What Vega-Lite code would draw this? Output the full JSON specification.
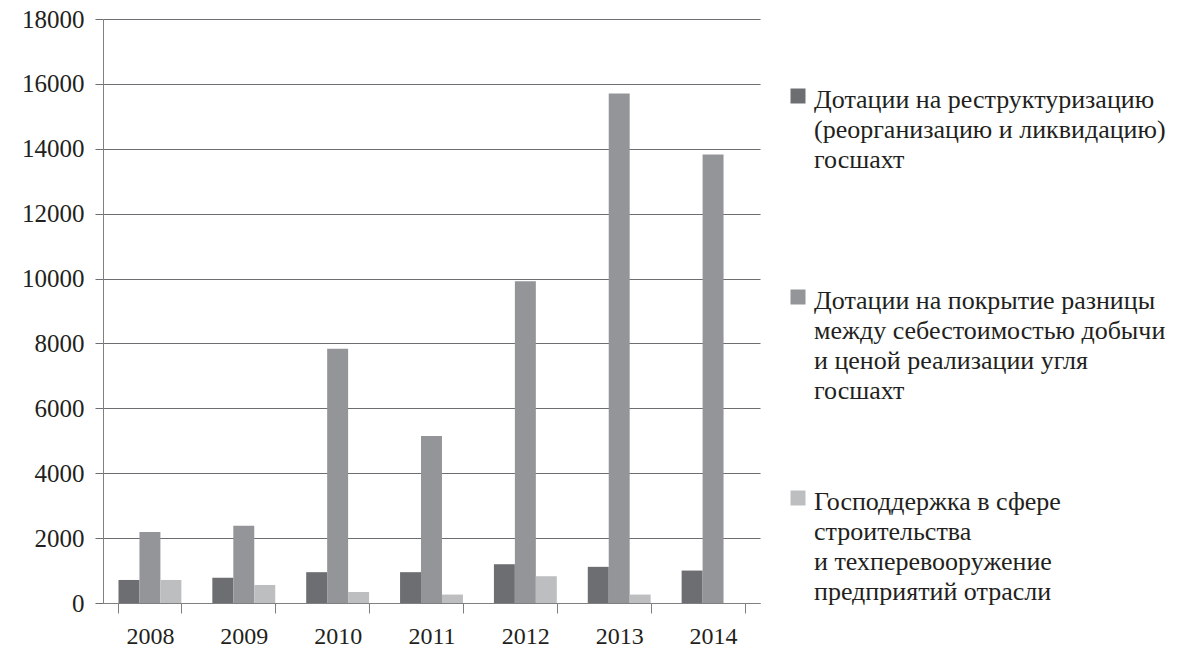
{
  "$schema": "https://vega.github.io/schema/vega-lite/v6.json",
  "width": 657,
  "height": 584,
  "autosize": {"type": "none"},
  "padding": {"left": 103, "top": 19, "right": 419, "bottom": 47},
  "background": "white",
  "config": {
    "view": {"stroke": null}
  },
  "data": {
    "values": [
      {"year": "2008", "series": "Дотации на реструктуризацию (реорганизацию и ликвидацию) госшахт", "value": 710},
      {"year": "2008", "series": "Дотации на покрытие разницы между себестоимостью добычи и ценой реализации угля госшахт", "value": 2190},
      {"year": "2008", "series": "Господдержка в сфере строительства и техперевооружение предприятий отрасли", "value": 710},
      {"year": "2009", "series": "Дотации на реструктуризацию (реорганизацию и ликвидацию) госшахт", "value": 780},
      {"year": "2009", "series": "Дотации на покрытие разницы между себестоимостью добычи и ценой реализации угля госшахт", "value": 2380},
      {"year": "2009", "series": "Господдержка в сфере строительства и техперевооружение предприятий отрасли", "value": 556},
      {"year": "2010", "series": "Дотации на реструктуризацию (реорганизацию и ликвидацию) госшахт", "value": 950},
      {"year": "2010", "series": "Дотации на покрытие разницы между себестоимостью добычи и ценой реализации угля госшахт", "value": 7840},
      {"year": "2010", "series": "Господдержка в сфере строительства и техперевооружение предприятий отрасли", "value": 340},
      {"year": "2011", "series": "Дотации на реструктуризацию (реорганизацию и ликвидацию) госшахт", "value": 950},
      {"year": "2011", "series": "Дотации на покрытие разницы между себестоимостью добычи и ценой реализации угля госшахт", "value": 5150},
      {"year": "2011", "series": "Господдержка в сфере строительства и техперевооружение предприятий отрасли", "value": 260},
      {"year": "2012", "series": "Дотации на реструктуризацию (реорганизацию и ликвидацию) госшахт", "value": 1195},
      {"year": "2012", "series": "Дотации на покрытие разницы между себестоимостью добычи и ценой реализации угля госшахт", "value": 9920},
      {"year": "2012", "series": "Господдержка в сфере строительства и техперевооружение предприятий отрасли", "value": 825},
      {"year": "2013", "series": "Дотации на реструктуризацию (реорганизацию и ликвидацию) госшахт", "value": 1115},
      {"year": "2013", "series": "Дотации на покрытие разницы между себестоимостью добычи и ценой реализации угля госшахт", "value": 15700},
      {"year": "2013", "series": "Господдержка в сфере строительства и техперевооружение предприятий отрасли", "value": 260},
      {"year": "2014", "series": "Дотации на реструктуризацию (реорганизацию и ликвидацию) госшахт", "value": 1000},
      {"year": "2014", "series": "Дотации на покрытие разницы между себестоимостью добычи и ценой реализации угля госшахт", "value": 13820},
      {"year": "2014", "series": "Господдержка в сфере строительства и техперевооружение предприятий отрасли", "value": 0}
    ]
  },
  "mark": {"type": "bar"},
  "encoding": {
    "x": {
      "field": "year", "type": "nominal",
      "scale": {"paddingInner": 0.33, "paddingOuter": 0.165},
      "axis": {"title": null, "labelAngle": 0, "labelPadding": 11, "labelFont": "Liberation Serif", "labelFontSize": 24, "labelColor": "#231f20", "tickBand": "extent", "tickSize": 10, "tickColor": "#808080", "domainColor": "#808080", "grid": false}
    },
    "xOffset": {
      "field": "series", "type": "nominal",
      "scale": {"domain": ["Дотации на реструктуризацию (реорганизацию и ликвидацию) госшахт", "Дотации на покрытие разницы между себестоимостью добычи и ценой реализации угля госшахт", "Господдержка в сфере строительства и техперевооружение предприятий отрасли"], "paddingInner": 0}
    },
    "y": {
      "field": "value", "type": "quantitative",
      "scale": {"domain": [0, 18000], "nice": false},
      "axis": {"title": null, "values": [0, 2000, 4000, 6000, 8000, 10000, 12000, 14000, 16000, 18000], "format": "d", "labelFont": "Liberation Serif", "labelFontSize": 25, "labelColor": "#231f20", "grid": true, "gridColor": "#6d6e71", "gridWidth": 1.2, "tickSize": 8, "tickColor": "#6d6e71", "labelPadding": 11, "domainColor": "#808080"}
    },
    "color": {
      "field": "series", "type": "nominal",
      "scale": {
        "domain": ["Дотации на реструктуризацию (реорганизацию и ликвидацию) госшахт", "Дотации на покрытие разницы между себестоимостью добычи и ценой реализации угля госшахт", "Господдержка в сфере строительства и техперевооружение предприятий отрасли"],
        "range": ["#6d6e71", "#939598", "#bcbec0"]
      },
      "legend": {
        "title": null,
        "orient": "none",
        "legendX": 682,
        "legendY": 55,
        "symbolType": "square",
        "symbolSize": 225,
        "symbolStrokeWidth": 0,
        "labelOffset": 3,
        "labelLimit": 500,
        "labelFont": "Liberation Serif",
        "labelFontSize": 26,
        "labelColor": "#231f20",
        "labelBaseline": "top",
        "rowPadding": 72,
        "encode": {
          "labels": {"update": {"lineHeight": {"value": 30}}},
          "symbols": {"update": {"y": {"value": 22}}}
        },
        "labelExpr": "datum.label == 'Дотации на реструктуризацию (реорганизацию и ликвидацию) госшахт' ? ['Дотации на реструктуризацию', '(реорганизацию и ликвидацию)', 'госшахт', ' '] : datum.label == 'Дотации на покрытие разницы между себестоимостью добычи и ценой реализации угля госшахт' ? ['Дотации на покрытие разницы', 'между себестоимостью добычи', 'и ценой реализации угля', 'госшахт'] : ['Господдержка в сфере', 'строительства', 'и техперевооружение', 'предприятий отрасли']"
      }
    }
  }
}
